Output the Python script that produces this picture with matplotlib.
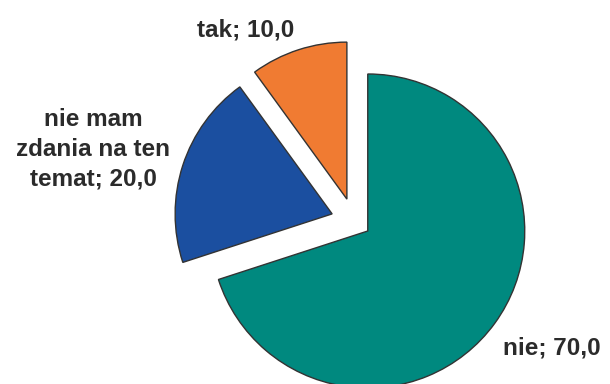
import matplotlib
matplotlib.use("Agg")
import matplotlib.pyplot as plt

# answers and their shares (%)
labels = ["nie", "nie mam\nzdania na ten\ntemat", "tak"]
values = [70.0, 20.0, 10.0]
colors = ["#00897f", "#1b4fa0", "#f07b32"]
explode = [17, 23, 23]

plt.rcParams['font.family'] = ['Liberation Sans', 'DejaVu Sans']

fig = plt.figure(figsize=(6.1, 3.84), dpi=100)
ax = fig.add_axes([0, 0, 1, 1])

ax.pie(values, colors=colors, explode=explode, radius=157, center=(354, 163),
       startangle=90, counterclock=False,
       wedgeprops=dict(edgecolor="#333333", linewidth=1.0))

# labels placed like in the original layout
label_pos = [(552, 36), (93, 235), (246, 354)]
for lab, val, (x, y) in zip(labels, values, label_pos):
    txt = f"{lab}; {val:.1f}".replace(".", ",")
    ax.text(x, y, txt, ha="center", va="center", fontsize=17.5, fontweight="bold",
            color="#2b2b2b", linespacing=1.38)

ax.set_xlim(0, 610)
ax.set_ylim(0, 384)
ax.set_aspect("equal")
ax.axis("off")

fig.savefig("out.png", dpi=100)
